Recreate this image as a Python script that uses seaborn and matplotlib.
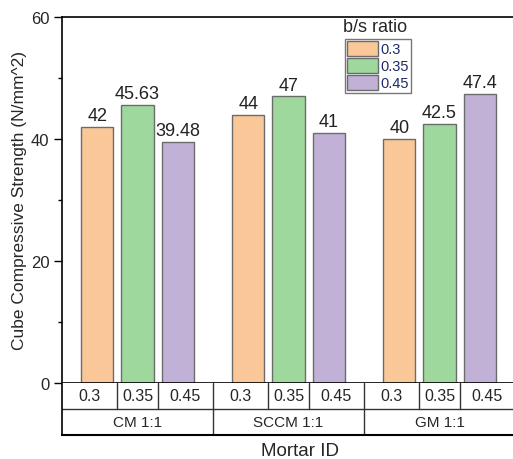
import matplotlib
matplotlib.use("Agg")
import matplotlib.pyplot as plt
import seaborn as sns
import pandas as pd
from matplotlib.patches import Patch

# Mortar mixes and binder/sand ratios
mortars = ["CM 1:1", "SCCM 1:1", "GM 1:1"]
ratios = ["0.3", "0.35", "0.45"]
strength_03 = [42, 44, 40]
strength_035 = [45.63, 47, 42.5]
strength_045 = [39.48, 41, 47.4]

colors = ["#FAC898", "#9ED89C", "#C1B1D7"]
edge = "#6b6b6b"

sns.set_theme(style="white")
plt.rcParams["font.family"] = ["Liberation Sans", "DejaVu Sans"]

rows = []
for r, vals in zip(ratios, [strength_03, strength_035, strength_045]):
    for m, v in zip(mortars, vals):
        rows.append({"Mortar ID": m, "b/s ratio": r, "strength": v})
df = pd.DataFrame(rows)

W, H = 513, 460
fig = plt.figure(figsize=(W / 100, H / 100), dpi=100)
left, right, top, bottom = 62, 515, 18, 384
ax = fig.add_axes([left / W, 1 - bottom / H, (right - left) / W, (bottom - top) / H])

sns.barplot(data=df, x="Mortar ID", y="strength", hue="b/s ratio",
            order=mortars, hue_order=ratios, palette=colors,
            gap=0.2, width=0.8, edgecolor=edge, linewidth=1.0,
            saturation=1, ax=ax, legend=False)

for cont in ax.containers:
    ax.bar_label(cont, fmt="%g", padding=2, fontsize=13, color="#222222")

ax.set_ylim(0, 60)
ax.set_xlim(-0.5, 2.5)
ax.set_yticks([0, 20, 40, 60])
ax.set_yticks([10, 30, 50], minor=True)
ax.tick_params(axis="y", which="major", direction="out", length=6, width=1,
               left=True, right=False, labelsize=12, color="black", pad=3)
ax.tick_params(axis="y", which="minor", direction="out", length=3, width=1,
               left=True, right=False, color="black")
ax.tick_params(axis="x", bottom=False, top=False, labelbottom=False)
ax.set_xlabel("")
ax.set_ylabel("Cube Compressive Strength (N/mm^2)", fontsize=12.5, labelpad=3)
for s in ["left", "top", "bottom"]:
    ax.spines[s].set_color("black")
    ax.spines[s].set_linewidth(1.2)

# Legend with its title set above the frame
handles = [Patch(facecolor=c, edgecolor=edge, linewidth=1.0) for c in colors]
leg = ax.legend(handles, ratios, loc="upper left", bbox_to_anchor=(0.625, 0.940),
                fontsize=10.5, frameon=True, fancybox=False, handlelength=2.1,
                handleheight=1.15, labelspacing=0.13, handletextpad=0.15,
                borderpad=0.15, borderaxespad=0)
leg.get_frame().set_edgecolor("#555555")
leg.get_frame().set_linewidth(1.0)
for t in leg.get_texts():
    t.set_color("#1d2b6a")
ax.text(0.69, 0.975, "b/s ratio", transform=ax.transAxes, ha="center",
        va="center", fontsize=13)

# Category table under the bars
tab_bottom = 436
tax = fig.add_axes([left / W, 1 - tab_bottom / H, (right - left) / W,
                    (tab_bottom - bottom) / H])
tax.set_xlim(ax.get_xlim())
tax.set_ylim(0, 2)
tax.set_facecolor("white")
tax.spines["left"].set_color("black")
tax.spines["left"].set_linewidth(1.2)
tax.spines["bottom"].set_color("black")
tax.spines["bottom"].set_linewidth(1.5)
tax.set_xticks([])
tax.set_yticks([])

tax.axhline(1, color="#333333", lw=1.0)
centers = []
for cont in ax.containers:
    centers.append([p.get_x() + p.get_width() / 2 for p in cont.patches])
for gi, m in enumerate(mortars):
    tax.text(gi, 0.5, m, ha="center", va="center", fontsize=11)
    if gi > 0:
        tax.plot([gi - 0.5, gi - 0.5], [0, 2], color="#333333", lw=1.0)
    xs = [centers[hi][gi] for hi in range(len(ratios))]
    bounds = [gi - 0.5] + [(xs[i] + xs[i + 1]) / 2 for i in range(len(xs) - 1)] + [gi + 0.5]
    for hi, r in enumerate(ratios):
        tax.text((bounds[hi] + bounds[hi + 1]) / 2, 1.5, r, ha="center",
                 va="center", fontsize=11.5)
    for b in bounds[1:-1]:
        tax.plot([b, b], [1, 2], color="#333333", lw=1.0)

for a in (ax, tax):
    a.spines["right"].set_visible(False)
tax.spines["top"].set_visible(False)

fig.text(300 / W, 1 - 452 / H, "Mortar ID", ha="center", va="center",
         fontsize=13.5)

fig.savefig("out.png", dpi=100, facecolor="white")
